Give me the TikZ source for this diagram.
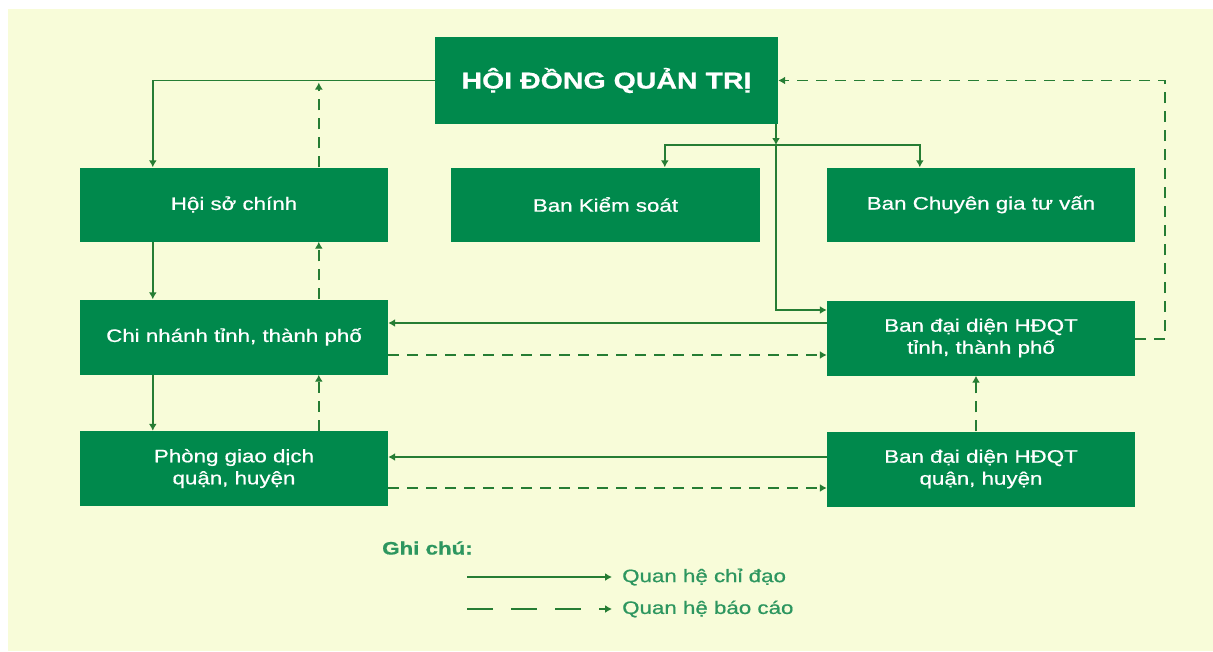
\documentclass[tikz,border=0pt]{standalone}
\usepackage{fontspec}
\setmainfont{Liberation Sans}
\newfontfamily\boxfont[FakeStretch=1.24,FakeBold=0.7]{Liberation Sans}
\usetikzlibrary{arrows.meta}

\definecolor{nenvang}{RGB}{248,252,217}
\definecolor{xanhkhoi}{RGB}{0,137,76}
\definecolor{xanhduong}{RGB}{38,125,52}
\definecolor{xanhchu}{RGB}{45,150,95}

\tikzset{
  khoi/.style={fill=xanhkhoi, text=white, minimum width=308pt, minimum height=74pt,
    inner sep=0pt, align=center, font=\boxfont\fontsize{18}{22}\selectfont},
  chidao/.style={draw=xanhduong, line width=1.5pt, -{Latex[length=7pt,width=8pt]}},
  baocao/.style={chidao, dash pattern=on 11pt off 8pt},
  chuthich/.style={anchor=west, text=xanhchu, inner xsep=10pt, inner ysep=0pt,
    font=\boxfont\fontsize{18}{22}\selectfont}
}

\begin{document}
\begin{tikzpicture}[x=1pt,y=-1pt]
\useasboundingbox (0,0) rectangle (1213,651);
\fill[nenvang] (8,9) rectangle (1213,651);

% cac khoi
\node[khoi, minimum width=343pt, minimum height=87pt,
  font=\boxfont\fontsize{23}{27}\selectfont\bfseries] (hdqt) at (606.5,80.5) {\raisebox{3pt}{HỘI ĐỒNG QUẢN TRỊ}};
\node[khoi] (hsc) at (234,204.5) {Hội sở chính};
\node[khoi, minimum width=309pt] (bks) at (605.5,204.5) {Ban Kiểm soát};
\node[khoi] (bcg) at (981,204.5) {Ban Chuyên gia tư vấn};
\node[khoi, minimum height=75pt] (cn) at (234,337) {\raisebox{4pt}{Chi nhánh tỉnh, thành phố}};
\node[khoi, minimum height=75pt] (pgd) at (234,468.5) {Phòng giao dịch\\quận, huyện};
\node[khoi, minimum height=75pt] (bdt) at (981,338) {Ban đại diện HĐQT\\tỉnh, thành phố};
\node[khoi, minimum height=75pt] (bdq) at (981,469) {Ban đại diện HĐQT\\quận, huyện};

% cot ben trai
\draw[chidao] (hdqt.west) -| ([xshift=73pt]hsc.north west);
\draw[baocao] ([xshift=239pt]hsc.north west) -- ([xshift=239pt,yshift=-2pt]hsc.north west |- hdqt.west);
\draw[chidao] ([xshift=73pt]hsc.south west) -- ([xshift=73pt]cn.north west);
\draw[baocao] ([xshift=239pt]cn.north west) -- ([xshift=239pt]hsc.south west);
\draw[chidao] ([xshift=73pt]cn.south west) -- ([xshift=73pt]pgd.north west);
\draw[baocao] ([xshift=239pt]pgd.north west) -- ([xshift=239pt]cn.south west);

% nhanh tu HDQT
\coordinate (nga) at (776,145);
\draw[chidao] (hdqt.south -| nga) -- (nga);
\draw[chidao] (nga) -| ([xshift=214pt]bks.north west);
\draw[chidao] (nga) -| ([xshift=93pt]bcg.north west);
\draw[chidao] (nga) |- ([yshift=28pt]bdt.west);

% quan he ngang
\draw[chidao] ([yshift=15pt]bdt.west) -- ([yshift=15pt]bdt.west -| cn.east);
\draw[baocao] ([yshift=-18pt]cn.east) -- ([yshift=-18pt]cn.east -| bdt.west);
\draw[chidao] ([yshift=12pt]bdq.west) -- ([yshift=12pt]bdq.west -| pgd.east);
\draw[baocao] ([yshift=-19.5pt]pgd.east) -- ([yshift=-19.5pt]pgd.east -| bdq.west);

% cot ben phai
\draw[baocao] ([xshift=-5pt]bdq.north) -- ([xshift=-5pt]bdt.south);
\draw[baocao] ([yshift=-1pt]bdt.east) -- ++(30,0) |- (hdqt.east);

% ghi chu
\node[chuthich, inner xsep=0pt, font=\boxfont\fontsize{18}{22}\selectfont\bfseries] (gc) at (382,548) {Ghi chú:};
\coordinate (cd) at (467,577);
\coordinate (bc) at (467,609);
\node[chuthich] (lcd) at (612,577) {Quan hệ chỉ đạo};
\node[chuthich] (lbc) at (612,609) {Quan hệ báo cáo};
\draw[chidao] (cd) -- (lcd.west);
\draw[baocao, dash pattern=on 26pt off 18pt] (bc) -- (lbc.west);
\end{tikzpicture}
\end{document}
